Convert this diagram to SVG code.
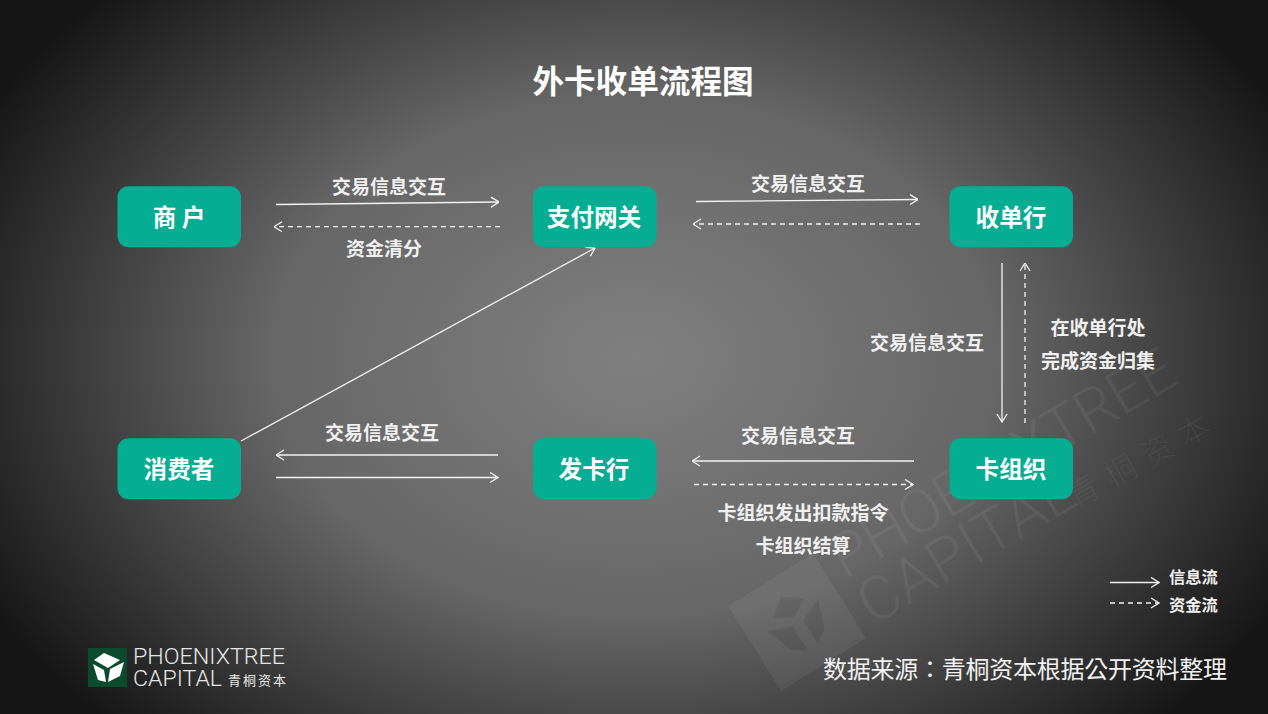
<svg xmlns="http://www.w3.org/2000/svg" width="1268" height="714" viewBox="0 0 1268 714">
<style>
.n{fill:#05ad93}
.nt{font:bold 23.600px "Noto Sans CJK SC","Noto Sans",sans-serif;fill:#fff;text-anchor:middle}
.l{font:bold 19px "Noto Sans CJK SC","Noto Sans",sans-serif;fill:#f0f0f0;text-anchor:middle}
.k{font:bold 16.300px "Noto Sans CJK SC","Noto Sans",sans-serif;fill:#f0f0f0}
.s{fill:none;stroke:#f2f2f2;stroke-width:1.3}
.d{fill:none;stroke:#f2f2f2;stroke-width:1.3;stroke-dasharray:5 4}
.h{fill:none;stroke:#f2f2f2;stroke-width:1.3}
.wm{font-family:Roboto,"Liberation Sans",sans-serif;font-weight:300;fill:#fff;fill-opacity:.06}
</style>
<defs>
<radialGradient id="bg" gradientUnits="userSpaceOnUse" cx="634" cy="357" r="730" gradientTransform="translate(634 357) scale(1 .72) translate(-634 -357)">
<stop offset="0" stop-color="#808080"/><stop offset=".5" stop-color="#666"/><stop offset="1" stop-color="#161616"/>
</radialGradient>
<marker id="a" viewBox="0 0 10 12" refX="9.5" refY="6" markerWidth="10" markerHeight="12" markerUnits="userSpaceOnUse" orient="auto-start-reverse"><path d="M1.5 1 9.5 6 1.5 11" class="h"/></marker>
</defs>
<rect width="1268" height="714" fill="url(#bg)"/>
<g id="watermark">
<g transform="translate(797 622) rotate(-32)" fill="#fff" fill-opacity=".06">
<path fill-rule="evenodd" d="M-50 -50H50V50H-50ZM0 -30 -18 -16 0 -6 18 -16ZM-30 -8 -20 20 -6 30 -6 2ZM30 -8 6 2 6 30 20 20Z"/>
</g>
<text class="wm" font-size="61" transform="translate(845 580) rotate(-30.5)" textLength="390">PHOENIXTREE</text>
<text class="wm" font-size="61" transform="translate(873 626) rotate(-30.5)" textLength="240">CAPITAL</text>
<text class="wm" font-size="32" transform="translate(1075 509) rotate(-29)" style="font-family:'Noto Sans CJK SC',sans-serif" letter-spacing="10">青桐资本</text>
</g>
<text x="643" y="93" style="font:bold 31.600px 'Noto Sans CJK SC',sans-serif;fill:#fff;text-anchor:middle">外卡收单流程图</text>
<g id="connectors">
<path class="s" d="M276 204.500 499 202" marker-end="url(#a)"/>
<path class="d" d="M500 226.700H274" marker-end="url(#a)"/>
<path class="s" d="M696 201.500 918 199.500" marker-end="url(#a)"/>
<path class="d" d="M920 224H693" marker-end="url(#a)"/>
<path class="s" d="M1002 263V422" marker-end="url(#a)"/>
<path class="d" d="M1025 423V263" marker-end="url(#a)"/>
<path class="s" d="M914 461H692" marker-end="url(#a)"/>
<path class="d" d="M694 484.500H913" marker-end="url(#a)"/>
<path class="s" d="M498 455H276" marker-end="url(#a)"/>
<path class="s" d="M276 477.500H498" marker-end="url(#a)"/>
<path class="s" d="M241 441 595 248" marker-end="url(#a)"/>
<path class="s" d="M1110 582.500H1159" marker-end="url(#a)"/>
<path class="d" d="M1110 603H1159" marker-end="url(#a)"/>
</g>
<g id="n1"><rect class="n" x="117.500" y="186.300" width="123.500" height="61" rx="11"/><text class="nt" x="179" y="226" xml:space="preserve">商 户</text></g>
<g id="n2"><rect class="n" x="533" y="186.300" width="123.500" height="61" rx="11"/><text class="nt" x="594" y="226">支付网关</text></g>
<g id="n3"><rect class="n" x="949.500" y="186.300" width="123.500" height="61" rx="11"/><text class="nt" x="1011" y="226">收单行</text></g>
<g id="n4"><rect class="n" x="117.500" y="438.300" width="123.500" height="61" rx="11"/><text class="nt" x="179" y="478">消费者</text></g>
<g id="n5"><rect class="n" x="533" y="438.300" width="123.500" height="61" rx="11"/><text class="nt" x="594" y="478">发卡行</text></g>
<g id="n6"><rect class="n" x="949.500" y="438.300" width="123.500" height="61" rx="11"/><text class="nt" x="1011" y="478">卡组织</text></g>
<g id="labels">
<text class="l" x="389" y="194">交易信息交互</text>
<text class="l" x="384" y="256">资金清分</text>
<text class="l" x="808" y="191">交易信息交互</text>
<text class="l" x="927" y="350">交易信息交互</text>
<text class="l" x="1098" y="335">在收单行处</text>
<text class="l" x="1098" y="368">完成资金归集</text>
<text class="l" x="382" y="440">交易信息交互</text>
<text class="l" x="798" y="443">交易信息交互</text>
<text class="l" x="803" y="520">卡组织发出扣款指令</text>
<text class="l" x="803" y="553">卡组织结算</text>
<text class="k" x="1169" y="583">信息流</text>
<text class="k" x="1169" y="611">资金流</text>
</g>
<g id="logo">
<rect x="88" y="648" width="39" height="39" fill="#0c4a2e"/>
<path fill="#fff" d="M104 653 120 660 108 668 94 660ZM93 664 104 670 106 682 98 680ZM124 662 110 669 108 682 120 676Z"/>
<text x="133" y="664" style="font:300 22px Roboto,'Liberation Sans',sans-serif;fill:#e6e6e6" textLength="152" lengthAdjust="spacingAndGlyphs">PHOENIXTREE</text>
<text x="133" y="686" style="font:300 22px Roboto,'Liberation Sans',sans-serif;fill:#e6e6e6" textLength="89" lengthAdjust="spacingAndGlyphs">CAPITAL</text>
<text x="228" y="685" style="font:13px 'Noto Sans CJK SC',sans-serif;fill:#e6e6e6" letter-spacing="2">青桐资本</text>
</g>
<text x="823" y="678" style="font:400 24px 'Noto Sans CJK TC','Noto Sans CJK SC',sans-serif;fill:#f0f0f0" textLength="404">数据来源：青桐资本根据公开资料整理</text>
</svg>
